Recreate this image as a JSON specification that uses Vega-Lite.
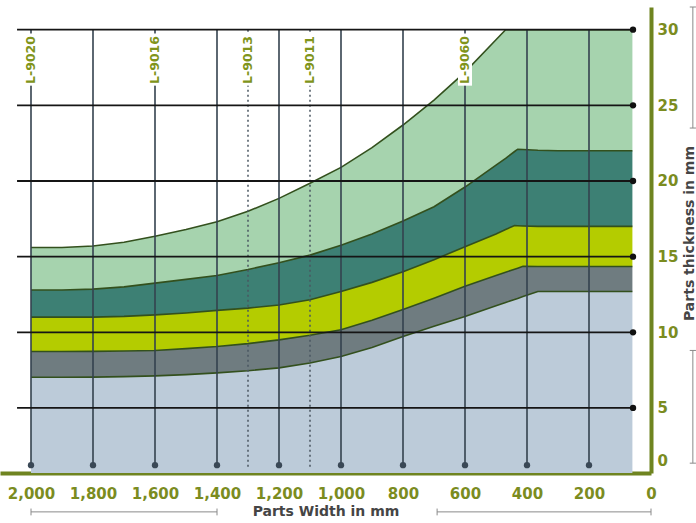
{
  "$schema": "https://vega.github.io/schema/vega-lite/v6.json",
  "autosize": {"type": "none"},
  "width": 651,
  "height": 466,
  "padding": {"left": 0, "top": 7, "right": 45, "bottom": 50},
  "background": "white",
  "config": {"view": {"stroke": null}, "font": "DejaVu Sans"},
  "datasets": {
    "bands": [
      {"x": 2000, "b1": 7.03, "b2": 8.73, "b3": 11.0, "b4": 12.8, "b5": 15.6},
      {"x": 1900, "b1": 7.03, "b2": 8.73, "b3": 11.0, "b4": 12.8, "b5": 15.6},
      {"x": 1800, "b1": 7.04, "b2": 8.74, "b3": 11.0, "b4": 12.85, "b5": 15.7},
      {"x": 1700, "b1": 7.07, "b2": 8.76, "b3": 11.05, "b4": 13.0, "b5": 15.95},
      {"x": 1600, "b1": 7.12, "b2": 8.8, "b3": 11.15, "b4": 13.25, "b5": 16.35},
      {"x": 1500, "b1": 7.2, "b2": 8.92, "b3": 11.28, "b4": 13.5, "b5": 16.8},
      {"x": 1400, "b1": 7.32, "b2": 9.06, "b3": 11.45, "b4": 13.75, "b5": 17.3},
      {"x": 1300, "b1": 7.46, "b2": 9.25, "b3": 11.6, "b4": 14.15, "b5": 18.0},
      {"x": 1200, "b1": 7.65, "b2": 9.5, "b3": 11.8, "b4": 14.6, "b5": 18.85},
      {"x": 1100, "b1": 7.97, "b2": 9.8, "b3": 12.15, "b4": 15.1, "b5": 19.85},
      {"x": 1000, "b1": 8.4, "b2": 10.17, "b3": 12.7, "b4": 15.75, "b5": 20.9},
      {"x": 900, "b1": 9.0, "b2": 10.8, "b3": 13.3, "b4": 16.5, "b5": 22.2},
      {"x": 800, "b1": 9.72, "b2": 11.5, "b3": 14.0, "b4": 17.35, "b5": 23.7},
      {"x": 700, "b1": 10.4, "b2": 12.25, "b3": 14.8, "b4": 18.3, "b5": 25.35},
      {"x": 600, "b1": 11.05, "b2": 13.04, "b3": 15.65, "b4": 19.6, "b5": 27.2},
      {"x": 500, "b1": 11.75, "b2": 13.75, "b3": 16.5, "b4": 21.05, "b5": 29.34},
      {"x": 469, "b1": 11.97, "b2": 13.97, "b3": 16.8, "b4": 21.5, "b5": 30},
      {"x": 440, "b1": 12.17, "b2": 14.17, "b3": 17.05, "b4": 21.95, "b5": 30},
      {"x": 430, "b1": 12.24, "b2": 14.24, "b3": 17.04, "b4": 22.1, "b5": 30},
      {"x": 413, "b1": 12.36, "b2": 14.36, "b3": 17.03, "b4": 22.08, "b5": 30},
      {"x": 365, "b1": 12.7, "b2": 14.35, "b3": 17.0, "b4": 22.03, "b5": 30},
      {"x": 300, "b1": 12.7, "b2": 14.35, "b3": 17.0, "b4": 22.0, "b5": 30},
      {"x": 200, "b1": 12.7, "b2": 14.35, "b3": 17.0, "b4": 22.0, "b5": 30},
      {"x": 100, "b1": 12.7, "b2": 14.35, "b3": 17.0, "b4": 22.0, "b5": 30},
      {"x": 60, "b1": 12.7, "b2": 14.35, "b3": 17.0, "b4": 22.0, "b5": 30}
    ],
    "vlines": [
      {"x": 2000, "top": 30, "bottom": 1.22},
      {"x": 1800, "top": 30, "bottom": 1.22},
      {"x": 1600, "top": 30, "bottom": 1.22},
      {"x": 1400, "top": 30, "bottom": 1.22},
      {"x": 1200, "top": 30, "bottom": 1.22},
      {"x": 1000, "top": 30, "bottom": 1.22},
      {"x": 800, "top": 30, "bottom": 1.22},
      {"x": 600, "top": 30, "bottom": 1.22},
      {"x": 400, "top": 30, "bottom": 1.22},
      {"x": 200, "top": 30, "bottom": 1.22}
    ],
    "dlines": [
      {"x": 1300, "top": 30, "bottom": 1.0},
      {"x": 1100, "top": 30, "bottom": 1.0}
    ],
    "hlines": [
      {"y": 5, "left": 2045, "right": 58},
      {"y": 10, "left": 2045, "right": 58},
      {"y": 15, "left": 2045, "right": 58},
      {"y": 20, "left": 2045, "right": 58},
      {"y": 25, "left": 2045, "right": 58},
      {"y": 30, "left": 2045, "right": 58}
    ],
    "labels": [
      {"x": 2000, "label": "L-9020"},
      {"x": 1600, "label": "L-9016"},
      {"x": 1300, "label": "L-9013"},
      {"x": 1100, "label": "L-9011"},
      {"x": 600, "label": "L-9060"}
    ],
    "xbrackets": [
      {"from": 2000, "to": 1400, "y": -1.87},
      {"from": 690, "to": 0, "y": -1.87}
    ],
    "ybrackets": [
      {"x": -135, "from": 31.5, "to": 23.5},
      {"x": -135, "from": 8.8, "to": 1.35}
    ]
  },
  "encoding": {
    "x": {
      "type": "quantitative",
      "scale": {"domain": [0, 2100], "reverse": true, "nice": false, "zero": false},
      "axis": {
        "orient": "bottom",
        "values": [2000, 1800, 1600, 1400, 1200, 1000, 800, 600, 400, 200, 0],
        "format": ",.0f",
        "grid": false,
        "ticks": false,
        "domainColor": "#6f8420",
        "domainWidth": 4,
        "labelFont": "DejaVu Sans",
        "labelFontWeight": "bold",
        "labelFontSize": 15,
        "labelColor": "#7b8c1f",
        "labelPadding": 13,
        "labelFlush": false,
        "labelOverlap": false,
        "title": "Parts Width in mm",
        "titleFont": "DejaVu Sans",
        "titleFontWeight": "bold",
        "titleFontSize": 14,
        "titleColor": "#454545",
        "titleBaseline": "middle",
        "titleY": 38
      }
    },
    "y": {
      "type": "quantitative",
      "scale": {"domain": [0.7, 31.5], "nice": false, "zero": false},
      "axis": {
        "orient": "right",
        "values": [1.5, 5, 10, 15, 20, 25, 30],
        "labelExpr": "datum.value < 2 ? '0' : datum.label",
        "grid": false,
        "ticks": false,
        "domainColor": "#6f8420",
        "domainWidth": 4,
        "labelFont": "DejaVu Sans",
        "labelFontWeight": "bold",
        "labelFontSize": 15,
        "labelColor": "#7b8c1f",
        "labelPadding": 6,
        "labelFlush": false,
        "labelOverlap": false,
        "title": "Parts thickness in mm",
        "titleFont": "DejaVu Sans",
        "titleFontWeight": "bold",
        "titleFontSize": 14,
        "titleColor": "#454545",
        "titleAngle": 270,
        "titleBaseline": "top",
        "titleAlign": "center",
        "titleX": 31,
        "titleY": 226
      }
    }
  },
  "layer": [
    {"data": {"name": "bands"}, "mark": {"type": "area", "color": "#bccbd9"},
     "encoding": {"x": {"field": "x"}, "y": {"field": "b1"}, "y2": {"datum": 0.7}}},
    {"data": {"name": "bands"}, "mark": {"type": "area", "color": "#6f7c80"},
     "encoding": {"x": {"field": "x"}, "y": {"field": "b2"}, "y2": {"field": "b1"}}},
    {"data": {"name": "bands"}, "mark": {"type": "area", "color": "#b4cc00"},
     "encoding": {"x": {"field": "x"}, "y": {"field": "b3"}, "y2": {"field": "b2"}}},
    {"data": {"name": "bands"}, "mark": {"type": "area", "color": "#3d8074"},
     "encoding": {"x": {"field": "x"}, "y": {"field": "b4"}, "y2": {"field": "b3"}}},
    {"data": {"name": "bands"}, "mark": {"type": "area", "color": "#a6d3ae"},
     "encoding": {"x": {"field": "x"}, "y": {"field": "b5"}, "y2": {"field": "b4"}}},
    {"data": {"name": "bands"}, "mark": {"type": "line", "color": "#33501d", "strokeWidth": 1.6},
     "encoding": {"x": {"field": "x"}, "y": {"field": "b1"}}},
    {"data": {"name": "bands"}, "mark": {"type": "line", "color": "#33501d", "strokeWidth": 1.6},
     "encoding": {"x": {"field": "x"}, "y": {"field": "b2"}}},
    {"data": {"name": "bands"}, "mark": {"type": "line", "color": "#33501d", "strokeWidth": 1.6},
     "encoding": {"x": {"field": "x"}, "y": {"field": "b3"}}},
    {"data": {"name": "bands"}, "mark": {"type": "line", "color": "#33501d", "strokeWidth": 1.6},
     "encoding": {"x": {"field": "x"}, "y": {"field": "b4"}}},
    {"data": {"name": "bands"}, "mark": {"type": "line", "color": "#33501d", "strokeWidth": 1.6},
     "encoding": {"x": {"field": "x"}, "y": {"field": "b5"}}},
    {"data": {"name": "vlines"}, "mark": {"type": "rule", "color": "#34424e", "strokeWidth": 1.6},
     "encoding": {"x": {"field": "x"}, "y": {"field": "top"}, "y2": {"field": "bottom"}}},
    {"data": {"name": "dlines"}, "mark": {"type": "rule", "color": "#4a5560", "strokeWidth": 1.5, "strokeDash": [2, 3]},
     "encoding": {"x": {"field": "x"}, "y": {"field": "top"}, "y2": {"field": "bottom"}}},
    {"data": {"name": "hlines"}, "mark": {"type": "rule", "color": "#151515", "strokeWidth": 1.8},
     "encoding": {"y": {"field": "y"}, "x": {"field": "left"}, "x2": {"field": "right"}}},
    {"data": {"name": "hlines"}, "mark": {"type": "point", "filled": true, "color": "#111111", "size": 40, "opacity": 1},
     "encoding": {"y": {"field": "y"}, "x": {"field": "right"}}},
    {"data": {"name": "vlines"}, "mark": {"type": "point", "filled": true, "color": "#3a4856", "size": 40, "opacity": 1},
     "encoding": {"x": {"field": "x"}, "y": {"field": "bottom"}}},
    {"data": {"name": "labels"}, "mark": {"type": "rule", "color": "white", "strokeWidth": 14},
     "encoding": {"x": {"field": "x"}, "y": {"datum": 26.3}, "y2": {"datum": 29.75}}},
    {"data": {"name": "labels"}, "mark": {"type": "text", "angle": 270, "align": "center", "baseline": "middle", "font": "DejaVu Sans", "fontWeight": "bold", "fontSize": 12.5, "color": "#80941a"},
     "encoding": {"x": {"field": "x"}, "y": {"datum": 28.0}, "text": {"field": "label"}}},
    {"data": {"name": "xbrackets"}, "mark": {"type": "rule", "color": "#8a8a8a", "strokeWidth": 1},
     "encoding": {"x": {"field": "from"}, "x2": {"field": "to"}, "y": {"field": "y"}}},
    {"data": {"name": "xbrackets"}, "mark": {"type": "rule", "color": "#8a8a8a", "strokeWidth": 1},
     "encoding": {"x": {"field": "from"}, "y": {"datum": -1.65}, "y2": {"datum": -2.1}}},
    {"data": {"name": "xbrackets"}, "mark": {"type": "rule", "color": "#8a8a8a", "strokeWidth": 1},
     "encoding": {"x": {"field": "to"}, "y": {"datum": -1.65}, "y2": {"datum": -2.1}}},
    {"data": {"name": "ybrackets"}, "mark": {"type": "rule", "color": "#8a8a8a", "strokeWidth": 1},
     "encoding": {"x": {"field": "x"}, "y": {"field": "from"}, "y2": {"field": "to"}}},
    {"data": {"name": "ybrackets"}, "mark": {"type": "rule", "color": "#8a8a8a", "strokeWidth": 1},
     "encoding": {"x": {"datum": -125}, "x2": {"datum": -145}, "y": {"field": "from"}}},
    {"data": {"name": "ybrackets"}, "mark": {"type": "rule", "color": "#8a8a8a", "strokeWidth": 1},
     "encoding": {"x": {"datum": -125}, "x2": {"datum": -145}, "y": {"field": "to"}}}
  ]
}
